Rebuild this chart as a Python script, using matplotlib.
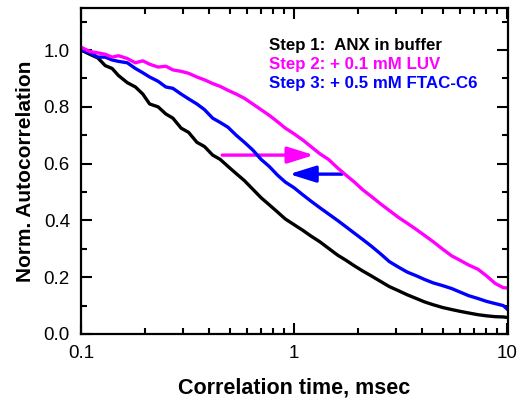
import matplotlib
matplotlib.use("Agg")
import matplotlib.pyplot as plt
from matplotlib.ticker import LogLocator, FixedLocator, MultipleLocator, NullFormatter, FixedFormatter
from matplotlib.patches import FancyArrowPatch

plt.rcParams['font.family'] = ['Liberation Sans', 'DejaVu Sans']

# Correlation time (msec)
t = [0.100, 0.110, 0.120, 0.130, 0.140, 0.150, 0.165, 0.180, 0.195, 0.210,
     0.230, 0.250, 0.270, 0.295, 0.320, 0.350, 0.380, 0.415, 0.450, 0.490,
     0.535, 0.585, 0.640, 0.700, 0.765, 0.835, 0.910, 1.00, 1.10, 1.20,
     1.32, 1.45, 1.60, 1.75, 1.92, 2.10, 2.30, 2.55, 2.80, 3.10,
     3.40, 3.75, 4.10, 4.50, 5.00, 5.50, 6.00, 6.60, 7.30, 8.00,
     8.80, 9.60, 10.1]

step1_anx = [1.000, 0.985, 0.972, 0.945, 0.935, 0.910, 0.885, 0.870, 0.845, 0.810,
             0.800, 0.775, 0.760, 0.725, 0.710, 0.675, 0.660, 0.630, 0.615, 0.590,
             0.565, 0.540, 0.510, 0.480, 0.455, 0.430, 0.405, 0.385, 0.365, 0.345,
             0.325, 0.302, 0.278, 0.260, 0.240, 0.222, 0.205, 0.185, 0.167, 0.152,
             0.138, 0.125, 0.113, 0.103, 0.093, 0.086, 0.080, 0.074, 0.068, 0.064,
             0.061, 0.060, 0.058]

step2_luv = [1.010, 0.995, 0.990, 0.985, 0.975, 0.980, 0.970, 0.955, 0.962, 0.950,
             0.940, 0.943, 0.930, 0.925, 0.918, 0.905, 0.895, 0.882, 0.872, 0.858,
             0.845, 0.830, 0.810, 0.790, 0.770, 0.748, 0.725, 0.705, 0.683, 0.660,
             0.635, 0.615, 0.585, 0.560, 0.535, 0.508, 0.485, 0.458, 0.435, 0.410,
             0.390, 0.368, 0.347, 0.325, 0.298, 0.275, 0.260, 0.243, 0.228, 0.205,
             0.178, 0.163, 0.162]

step3_ftac = [1.000, 0.990, 0.975, 0.975, 0.965, 0.960, 0.955, 0.935, 0.920, 0.905,
              0.890, 0.870, 0.865, 0.845, 0.828, 0.810, 0.790, 0.760, 0.745, 0.728,
              0.700, 0.675, 0.648, 0.615, 0.590, 0.560, 0.535, 0.515, 0.490, 0.468,
              0.445, 0.423, 0.400, 0.378, 0.355, 0.333, 0.310, 0.282, 0.255, 0.235,
              0.218, 0.205, 0.192, 0.180, 0.170, 0.160, 0.148, 0.135, 0.125, 0.115,
              0.107, 0.100, 0.085]

labels = ["Step 1:  ANX in buffer", "Step 2: + 0.1 mM LUV", "Step 3: + 0.5 mM FTAC-C6"]
colors = ["#000000", "#FF00FF", "#0000FF"]

# arrows (time coordinates, level)
arrow_mag = ((0.46, 0.63), (1.24, 0.63))
arrow_blue = ((1.68, 0.563), (0.95, 0.563))

xticks = [0.1, 1, 10]
xticklabels = ["0.1", "1", "10"]
yticks = [0.0, 0.2, 0.4, 0.6, 0.8, 1.0]

fig = plt.figure(figsize=(5.17, 4.01), dpi=100)
ax = fig.add_axes([81/517, 1-334/401, (508-81)/517, (334-8)/401])

ax.plot(t, step1_anx, color=colors[0], lw=2.4)
ax.plot(t, step3_ftac, color=colors[2], lw=2.4)
ax.plot(t, step2_luv, color=colors[1], lw=2.4)

ax.set_xscale('log')
ax.set_xlim(0.1, 10.1)
ax.set_ylim(0, 1.148)

ax.xaxis.set_major_locator(FixedLocator(xticks))
ax.xaxis.set_major_formatter(FixedFormatter(xticklabels))
ax.xaxis.set_minor_locator(LogLocator(base=10, subs=[2, 3, 4, 5, 6, 7, 8, 9]))
ax.xaxis.set_minor_formatter(NullFormatter())
ax.yaxis.set_major_locator(FixedLocator(yticks))
ax.yaxis.set_minor_locator(MultipleLocator(0.1))
ax.set_yticklabels([f"{v:.1f}" for v in yticks])

ax.tick_params(which='both', direction='in', top=True, right=True, width=1.5, labelsize=13.5, pad=8)
ax.tick_params(which='major', length=8)
ax.tick_params(which='minor', length=4.5)
for s in ax.spines.values():
    s.set_linewidth(1.6)

ax.set_xlabel("Correlation time, msec", fontsize=15.5, fontweight='bold', labelpad=11)
ax.set_ylabel("Norm. Autocorrelation", fontsize=15, fontweight='bold', labelpad=6)

ys = [0.886, 0.828, 0.767]
for lab, c, y in zip(labels, colors, ys):
    ax.text(0.44, y, lab, transform=ax.transAxes, color=c, fontsize=12.2,
            fontweight='bold', va='center', ha='left')

for (p0, p1), c in [(arrow_mag, colors[1]), (arrow_blue, colors[2])]:
    ax.add_patch(FancyArrowPatch(p0, p1, arrowstyle='-|>,head_length=1.6,head_width=0.5',
                                 mutation_scale=10, color=c, lw=2.4, shrinkA=0, shrinkB=0))

fig.savefig("out.png", dpi=100)
